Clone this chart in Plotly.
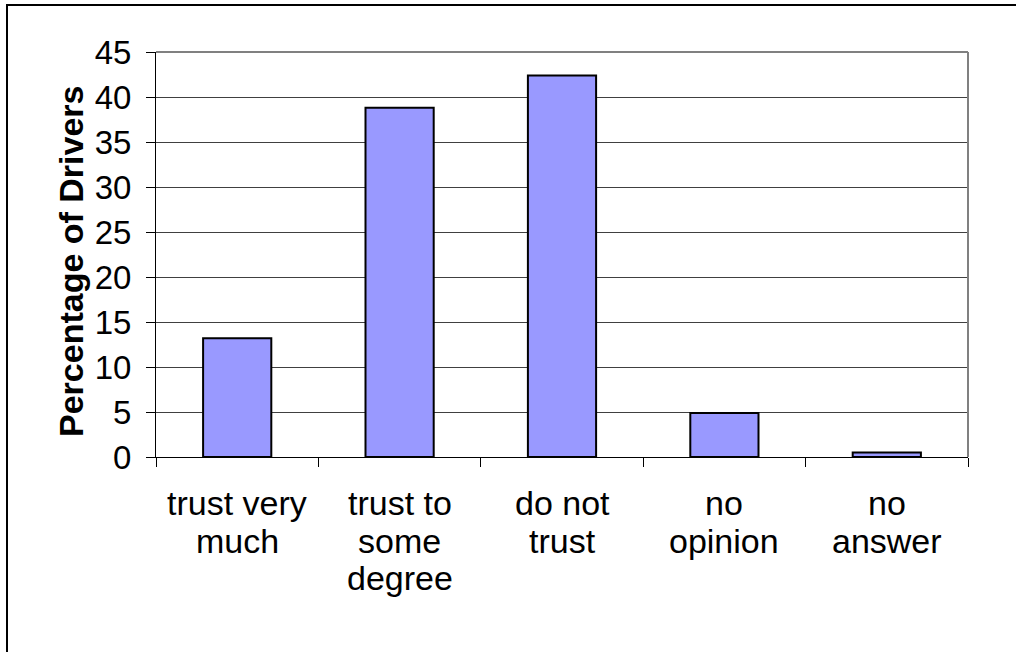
import plotly.graph_objects as go

categories = ["trust very much", "trust to some degree", "do not trust", "no opinion", "no answer"]
label_lines = [["trust very", "much"], ["trust to", "some", "degree"], ["do not", "trust"], ["no", "opinion"], ["no", "answer"]]
percentages = [13.2, 38.8, 42.4, 4.9, 0.5]
y_ticks = [0, 5, 10, 15, 20, 25, 30, 35, 40, 45]
y_title = "Percentage of Drivers"

W, H = 1016, 652
L, R, T, B = 156, 48, 52, 195
pw, ph = W - L - R, H - T - B

def px_x(p):
    return (p - L) / pw

def px_y(p):
    return (H - B - p) / ph

fig = go.Figure(go.Bar(
    x=categories,
    y=percentages,
    marker=dict(color="#9999FF", line=dict(color="#000000", width=2)),
))

shapes = [
    # plot frame: top and right edges
    dict(type="line", xref="paper", yref="paper", x0=0, x1=1, y0=1, y1=1,
         line=dict(color="#808080", width=2)),
    dict(type="line", xref="paper", yref="paper", x0=1, x1=1, y0=0, y1=1,
         line=dict(color="#808080", width=2)),
    # outer chart border
    dict(type="rect", xref="paper", yref="paper",
         x0=px_x(7), x1=px_x(1030), y0=px_y(680), y1=px_y(5),
         line=dict(color="#000000", width=2), fillcolor="rgba(0,0,0,0)"),
]

# category labels, one annotation per text line for tighter line spacing
annotations = []
for cat, lines in zip(categories, label_lines):
    for i, line in enumerate(lines):
        annotations.append(dict(
            x=cat, xref="x", y=px_y(503 + 37.5 * i), yref="paper",
            text=line, showarrow=False, xanchor="center", yanchor="middle",
            font=dict(size=34, color="#000000"),
        ))

# vertical axis title
annotations.append(dict(
    x=px_x(71), xref="paper", y=px_y(261), yref="paper",
    text="<b>" + y_title + "</b>", textangle=-90, showarrow=False,
    xanchor="center", yanchor="middle",
    font=dict(size=34, color="#000000"),
))

fig.update_layout(
    width=W, height=H,
    margin=dict(l=L, r=R, t=T, b=B, autoexpand=False),
    paper_bgcolor="white", plot_bgcolor="white",
    font=dict(family="Liberation Sans, Arial, sans-serif", color="#000000"),
    bargap=0.58,
    showlegend=False,
    shapes=shapes,
    annotations=annotations,
    xaxis=dict(
        showgrid=False,
        showline=True, linecolor="#000000", linewidth=1,
        ticks="outside", tickson="boundaries", ticklen=9, tickcolor="#000000",
        showticklabels=False,
    ),
    yaxis=dict(
        range=[0, 45],
        tickvals=y_ticks,
        showgrid=True, gridcolor="#404040", gridwidth=1,
        showline=True, linecolor="#000000", linewidth=1,
        ticks="outside", ticklen=9, tickcolor="#000000",
        tickfont=dict(size=33),
        ticklabelstandoff=8,
        zeroline=False,
    ),
)

fig.write_html("out.html")
